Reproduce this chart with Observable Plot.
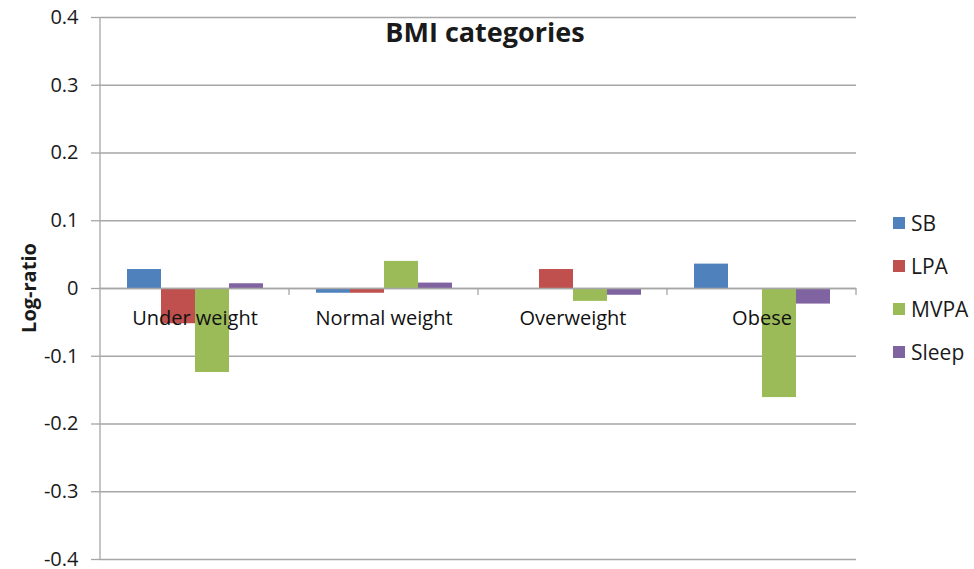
<!DOCTYPE html>
<html>
<head>
<meta charset="utf-8">
<script src="https://cdn.jsdelivr.net/npm/d3@7"></script>
<script src="https://cdn.jsdelivr.net/npm/@observablehq/plot@0.6"></script>
<style>
  html, body { margin: 0; padding: 0; background: #fff; }
  #wrap { position: relative; width: 974px; height: 569px; font-family: "Open Sans", "Noto Sans", sans-serif; }
  #title { position: absolute; left: 485px; top: 31px; transform: translate(-50%, -50%); font-weight: bold; font-size: 27px; color: #1a1a1a; white-space: nowrap; }
  #ylabel { position: absolute; left: 28px; top: 288px; transform: translate(-50%, -50%) rotate(-90deg); font-weight: bold; font-size: 20px; color: #1a1a1a; white-space: nowrap; }
  #legend { position: absolute; left: 893px; top: 201px; }
  .item { height: 43px; display: flex; align-items: center; font-size: 21px; color: #1a1a1a; }
  .sw { width: 12px; height: 12px; margin-right: 6px; }
  #chart svg g[aria-label="y-axis tick label"] { font-size: 20px; }
</style>
</head>
<body>
<div id="wrap">
  <div id="chart"></div>
  <div id="title"></div>
  <div id="ylabel"></div>
  <div id="legend"></div>
</div>
<script>
const titleText = "BMI categories";
const yLabel = "Log-ratio";
const categories = ["Under weight", "Normal weight", "Overweight", "Obese"];
const series = ["SB", "LPA", "MVPA", "Sleep"];
const colors = ["#4F81BD", "#C0504D", "#9BBB59", "#8064A2"];
const sbValues    = [0.028, -0.007, 0.000, 0.036];
const lpaValues   = [-0.052, -0.007, 0.028, 0.000];
const mvpaValues  = [-0.124, 0.040, -0.019, -0.161];
const sleepValues = [0.007, 0.008, -0.010, -0.023];
const yTicks = [-0.4, -0.3, -0.2, -0.1, 0, 0.1, 0.2, 0.3, 0.4];
const yDomain = [-0.4, 0.4];

const valueArrays = [sbValues, lpaValues, mvpaValues, sleepValues];
const rows = [];
categories.forEach((c, i) => series.forEach((s, j) => rows.push({category: c, series: s, value: valueArrays[j][i]})));

const gridColor = "#a6a6a6";

const decor = Plot.frame({
  facet: "super",
  render(index, scales) {
    const {fx, y} = scales;
    const g = d3.create("svg:g").attr("stroke", gridColor).attr("stroke-width", 1.3).attr("fill", "none");
    const y0 = y(0), top = y(yDomain[1]), bottom = y(yDomain[0]);
    const left = fx(fx.domain()[0]);
    g.append("line").attr("x1", left).attr("x2", left).attr("y1", top).attr("y2", bottom);
    for (const c of fx.domain()) {
      const xe = fx(c) + fx.bandwidth();
      g.append("line").attr("x1", xe).attr("x2", xe).attr("y1", y0).attr("y2", y0 + 7);
    }
    return g.node();
  }
});

const chart = Plot.plot({
  width: 974,
  height: 569,
  marginLeft: 99,
  marginRight: 118,
  marginTop: 17,
  marginBottom: 10,
  style: {fontFamily: "'Open Sans', 'Noto Sans', sans-serif", fontSize: "19px", background: "#fff", overflow: "visible"},
  fx: {domain: categories, padding: 0, axis: null},
  x: {domain: series, paddingInner: 0, paddingOuter: 0.75, axis: null},
  y: {domain: yDomain, axis: null},
  color: {domain: series, range: colors},
  marks: [
    Plot.gridY(yTicks, {stroke: gridColor, strokeOpacity: 1, strokeWidth: 1.3}),
    Plot.axisY(yTicks, {
      tickSize: 9, tickPadding: 13, stroke: gridColor, strokeWidth: 1.3, strokeOpacity: 1,
      fontSize: 20, fill: "#1a1a1a", label: null,
      tickFormat: d => d === 0 ? "0" : d.toFixed(1)
    }),
    Plot.barY(rows, {fx: "category", x: "series", y: "value", fill: "series"}),
    Plot.ruleY([0], {stroke: gridColor, strokeWidth: 1.3}),
    decor,
    Plot.text(categories, {fx: d => d, y: () => 0, text: d => d, dy: 30, fontSize: 20, fill: "#111", lineAnchor: "middle"})
  ]
});
document.getElementById("chart").appendChild(chart);
document.getElementById("title").textContent = titleText;
document.getElementById("ylabel").textContent = yLabel;

const legend = d3.select("#legend");
series.forEach((s, i) => {
  const item = legend.append("div").attr("class", "item");
  item.append("div").attr("class", "sw").style("background", colors[i]);
  item.append("span").text(s);
});
</script>
</body>
</html>
